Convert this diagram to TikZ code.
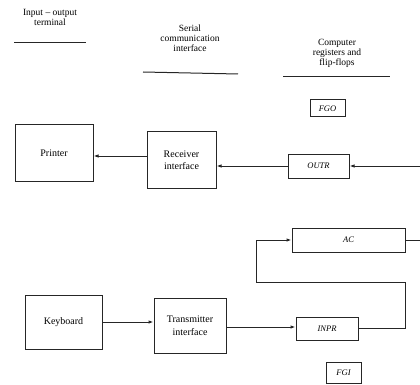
\documentclass[tikz,border=0pt]{standalone}
\usepackage{fontspec}
\setmainfont{Liberation Serif}
\usetikzlibrary{arrows.meta}
\begin{document}
\begin{tikzpicture}[x=1pt,y=-1pt,
  ink/.style={draw=black!85, line width=1pt},
  unit/.style={ink, rectangle, inner sep=0pt, align=center,
    font=\fontsize{10}{12.5}\selectfont},
  reg/.style={ink, rectangle, inner sep=0pt,
    font=\fontsize{8.5}{9}\selectfont\itshape},
  head/.style={align=center, inner sep=0pt,
    font=\fontsize{9.5}{10}\selectfont},
  rule/.style={ink},
  arr/.style={ink, -{Latex[length=5pt,width=3.5pt]}},
  wire/.style={ink}]
\useasboundingbox (0,0) rectangle (420,385);

% column headings
\node[head] (hio)  at (50,17)  {Input -- output\\terminal};
\node[head] (hser) at (190,38) {Serial\\communication\\interface};
\node[head] (hreg) at (337,53) {Computer\\registers and\\flip-flops};
\draw[rule] (14,43) -- (86,43);
\draw[rule] (143,72) -- (238,74);
\draw[rule] (283,77) -- (390,77);

% output side
\node[reg, minimum width=35, minimum height=17] (fgo) at (327.5,108.5) {FGO};
\node[unit, minimum width=78, minimum height=56] (printer) at (54,153) {Printer};
\node[unit, minimum width=69, minimum height=56] (recv) at (181.5,160) {Receiver\\interface};
\node[reg, minimum width=61, minimum height=24] (outr) at (318.5,166) {OUTR};

% accumulator
\node[reg, minimum width=113, minimum height=24] (ac) at (348.5,240) {AC};

% input side
\node[unit, minimum width=77, minimum height=54] (kbd) at (63.5,322) {Keyboard};
\node[unit, minimum width=72, minimum height=55] (tx) at (190,325.5) {Transmitter\\interface};
\node[reg, minimum width=62, minimum height=23] (inpr) at (327,328.5) {INPR};
\node[reg, minimum width=35, minimum height=21] (fgi) at (343.5,372.5) {FGI};

% free ends and bends
\coordinate (acout)  at (420,240);
\coordinate (outrin) at (420,166);
\coordinate (l1) at (405,328.5);
\coordinate (l2) at (405,282);
\coordinate (l3) at (256,282);
\coordinate (l4) at (256,240);

% connectors
\draw[arr] (outrin) -- (outr.east);
\draw[arr] (outr.west) -- (outr.west -| recv.east);
\draw[arr] (recv.west |- 0,156) -- (printer.east |- 0,156);
\draw[arr] (kbd.east) -- (kbd.east -| tx.west);
\draw[arr] (tx.east |- 0,327) -- (inpr.west |- 0,327);
\draw[wire] (ac.east) -- (acout);
\draw[arr] (inpr.east) -- (l1) -- (l2) -- (l3) -- (l4) -- (ac.west);
\end{tikzpicture}
\end{document}
